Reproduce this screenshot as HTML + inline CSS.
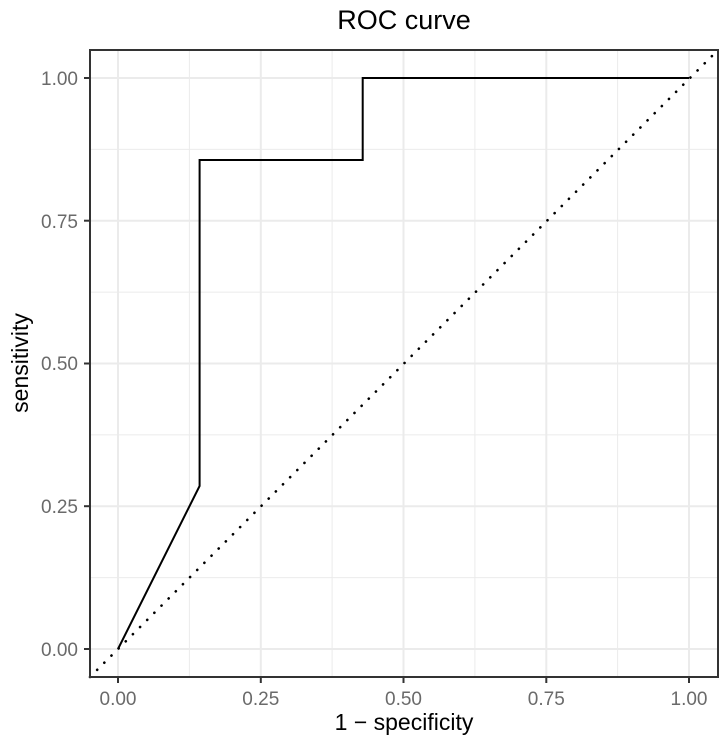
<!DOCTYPE html>
<html><head><style>body{margin:0;background:#fff}</style></head><body>
<svg width="724" height="739" xmlns="http://www.w3.org/2000/svg" font-family="Liberation Sans, sans-serif">
<rect width="724" height="739" fill="#fff"/>
<g stroke="#ebebeb" stroke-width="1">
<line x1="90" x2="718" y1="577.6" y2="577.6"/><line x1="90" x2="718" y1="434.9" y2="434.9"/><line x1="90" x2="718" y1="292.1" y2="292.1"/><line x1="90" x2="718" y1="149.4" y2="149.4"/>
<line y1="50" y2="677" x1="189.4" x2="189.4"/><line y1="50" y2="677" x1="332.1" x2="332.1"/><line y1="50" y2="677" x1="474.9" x2="474.9"/><line y1="50" y2="677" x1="617.6" x2="617.6"/>
</g>
<g stroke="#ebebeb" stroke-width="2">
<line x1="90" x2="718" y1="649" y2="649"/><line x1="90" x2="718" y1="506.2" y2="506.2"/><line x1="90" x2="718" y1="363.5" y2="363.5"/><line x1="90" x2="718" y1="220.7" y2="220.7"/><line x1="90" x2="718" y1="78" y2="78"/>
<line y1="50" y2="677" x1="118" x2="118"/><line y1="50" y2="677" x1="260.8" x2="260.8"/><line y1="50" y2="677" x1="403.5" x2="403.5"/><line y1="50" y2="677" x1="546.3" x2="546.3"/><line y1="50" y2="677" x1="689" x2="689"/>
</g>
<line x1="90" y1="677" x2="718" y2="50" stroke="#000" stroke-width="2.6" stroke-dasharray="0.1 10" stroke-linecap="round"/>
<polyline points="118,649 199.6,486 199.6,160 362.7,160 362.7,78 689,78" fill="none" stroke="#000" stroke-width="2"/>
<rect x="90" y="50" width="628" height="627" fill="none" stroke="#333" stroke-width="2"/>
<g stroke="#333" stroke-width="2">
<line x1="84" x2="90" y1="649" y2="649"/><line x1="84" x2="90" y1="506.2" y2="506.2"/><line x1="84" x2="90" y1="363.5" y2="363.5"/><line x1="84" x2="90" y1="220.7" y2="220.7"/><line x1="84" x2="90" y1="78" y2="78"/>
<line y1="677" y2="683" x1="118" x2="118"/><line y1="677" y2="683" x1="260.8" x2="260.8"/><line y1="677" y2="683" x1="403.5" x2="403.5"/><line y1="677" y2="683" x1="546.3" x2="546.3"/><line y1="677" y2="683" x1="689" x2="689"/>
</g>
<g fill="#6a6a6a" font-size="19" text-anchor="end">
<text x="78" y="656">0.00</text><text x="78" y="513">0.25</text><text x="78" y="370">0.50</text><text x="78" y="228">0.75</text><text x="78" y="85">1.00</text>
</g>
<g fill="#6a6a6a" font-size="19" text-anchor="middle">
<text x="118" y="705">0.00</text><text x="260.8" y="705">0.25</text><text x="403.5" y="705">0.50</text><text x="546.3" y="705">0.75</text><text x="689" y="705">1.00</text>
</g>
<text x="404" y="730" font-size="23" text-anchor="middle">1 − specificity</text>
<text transform="translate(28,363) rotate(-90)" font-size="23" text-anchor="middle">sensitivity</text>
<text x="404" y="29" font-size="27" text-anchor="middle">ROC curve</text>
</svg>
</body></html>
